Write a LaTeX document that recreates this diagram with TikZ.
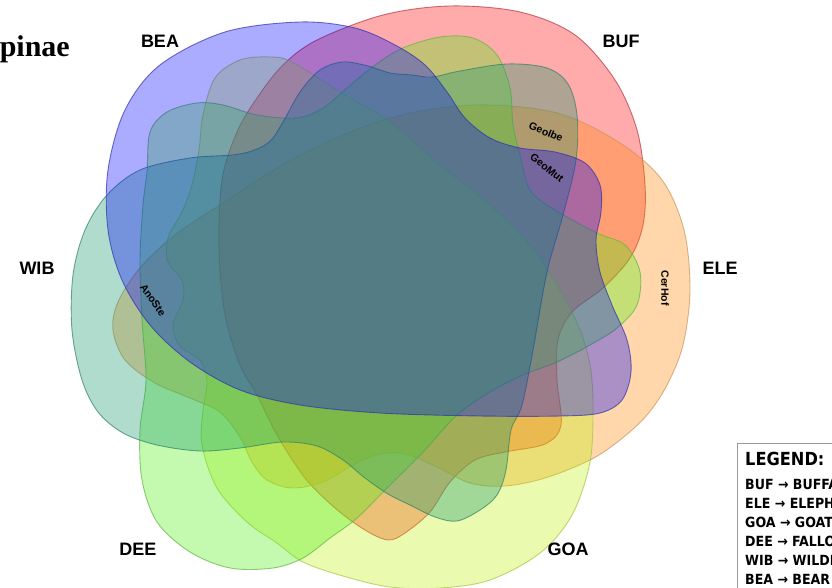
\documentclass[tikz,border=0pt]{standalone}
\usepackage{fontspec}
\setmainfont{Liberation Sans}
\newfontfamily\serifb{Liberation Serif}
\newfontfamily\legf{DejaVu Sans Condensed}
\definecolor{beaF}{RGB}{0,0,255}\definecolor{beaD}{RGB}{50,50,170}
\definecolor{bufF}{RGB}{255,0,0}\definecolor{bufD}{RGB}{185,50,60}
\definecolor{eleF}{RGB}{255,134,0}\definecolor{eleD}{RGB}{200,150,90}
\definecolor{goaF}{RGB}{194,240,13}\definecolor{goaD}{RGB}{170,195,70}
\definecolor{deeF}{RGB}{73,240,13}\definecolor{deeD}{RGB}{100,180,70}
\definecolor{wibF}{RGB}{13,149,103}\definecolor{wibD}{RGB}{50,130,100}
\tikzset{
 vset/.style={fill opacity=0.33, draw opacity=0.7, line width=0.9pt},
 setlabel/.style={font=\bfseries\fontsize{18}{18}\selectfont},
 smalllabel/.style={font=\bfseries\fontsize{10.5}{11}\selectfont, inner sep=0pt},
 legline/.style={font=\legf\bfseries\fontsize{14}{15}\selectfont, anchor=west, inner sep=0pt}
}
\begin{document}
\begin{tikzpicture}[x=1pt,y=-1pt]
\useasboundingbox (0,0) rectangle (832,588);
\fill[white] (0,0) rectangle (832,588);
% BUF
\draw[vset, fill=bufF, draw=bufD] plot[smooth cycle, tension=0.55] coordinates {
(383,15) (450,6) (520,12) (575,35) (615,80) (637,130) (645,185) (643,225) (630,258) (603,288) (572,312) (558,340) (557,380) (561,425) (545,444) (505,452) (475,460) (450,482) (430,512) (405,533) (388,540) (365,530) (335,508) (305,478) (277,435) (257,395) (240,365) (225,315) (219,250) (222,180) (237,132) (257,98) (283,65) (317,40)};
% ELE
\draw[vset, fill=eleF, draw=eleD] plot[smooth cycle, tension=0.55] coordinates {
(390,118) (475,105) (557,113) (620,143) (662,180) (684,230) (690,290) (683,345) (667,385) (647,415) (620,440) (590,460) (545,478) (505,486) (470,483) (435,466) (405,454) (380,454) (355,464) (323,482) (292,488) (267,480) (252,462) (240,437) (220,412) (190,398) (155,383) (125,360) (113,330) (118,302) (140,268) (175,235) (220,205) (300,155)};
% GOA
\draw[vset, fill=goaF, draw=goaD] plot[smooth cycle, tension=0.55] coordinates {
(203,115) (215,78) (240,60) (270,57) (292,62) (340,92) (390,122) (440,165) (490,205) (530,245) (560,290) (580,330) (590,365) (593,405) (590,462) (572,515) (540,553) (490,580) (440,588) (390,587) (343,576) (303,562) (277,543) (247,522) (217,488) (202,445) (203,410) (207,382) (200,360) (180,346) (173,325) (183,300) (182,280) (168,262) (168,238) (182,212) (192,185) (199,150)};
% DEE
\draw[vset, fill=deeF, draw=deeD] plot[smooth cycle, tension=0.55] coordinates {
(147,172) (150,132) (167,112) (197,103) (223,105) (257,115) (297,118) (323,108) (347,88) (375,65) (403,48) (440,37) (473,38) (497,55) (510,88) (513,125) (520,155) (530,190) (555,210) (597,233) (625,245) (640,272) (637,305) (617,328) (590,345) (557,362) (523,375) (490,392) (457,415) (423,452) (390,485) (357,518) (330,538) (303,558) (273,568) (230,568) (190,552) (157,522) (142,480) (140,430) (146,380) (142,320) (140,260) (143,205)};
% WIB
\draw[vset, fill=wibF, draw=wibD] plot[smooth cycle, tension=0.55] coordinates {
(107,195) (140,170) (190,158) (240,154) (268,143) (283,122) (300,92) (320,70) (343,62) (368,66) (390,73) (412,75) (432,77) (460,71) (507,64) (547,68) (568,84) (577,115) (576,160) (563,215) (547,272) (533,350) (522,405) (511,430) (506,470) (497,495) (480,510) (457,521) (435,517) (410,505) (388,494) (365,478) (343,460) (317,446) (283,442) (240,448) (200,451) (157,445) (123,433) (98,412) (82,380) (72,330) (73,275) (85,230)};
% BEA
\draw[vset, fill=beaF, draw=beaD] plot[smooth cycle, tension=0.55] coordinates {
(300,22) (355,28) (395,45) (425,65) (447,92) (465,118) (490,138) (520,148) (555,152) (585,163) (600,185) (601,212) (596,240) (600,272) (612,305) (627,340) (631,372) (622,400) (600,413) (560,416) (480,416) (380,413) (300,405) (240,390) (190,362) (150,325) (122,280) (108,230) (108,170) (125,110) (160,65) (225,32)};
% set labels
\node[setlabel] (lbea) at (160,41) {BEA};
\node[setlabel] (lbuf) at (621,41) {BUF};
\node[setlabel] (lwib) at (37,268) {WIB};
\node[setlabel] (lele) at (720,268) {ELE};
\node[setlabel] (ldee) at (138,549) {DEE};
\node[setlabel] (lgoa) at (568,549) {GOA};
% region labels
\node[smalllabel, rotate=-22] (geolbe) at (546,132) {GeoIbe};
\node[smalllabel, rotate=-38] (geomut) at (547,168) {GeoMut};
\node[smalllabel, rotate=-55] (anoste) at (153,300) {AnoSte};
\node[smalllabel, rotate=-90] (cerhof) at (665,288) {CerHof};
% title
\node[anchor=base east, inner sep=0pt, font=\serifb\bfseries\fontsize{30}{30}\selectfont] (title) at (70,57) {Antilopinae};
% legend
\draw[gray!80, line width=0.8pt] (737,443) rectangle (900,620);
\node[anchor=west, inner sep=0pt, font=\legf\bfseries\fontsize{18}{19}\selectfont] (legt) at (745,459) {LEGEND:};
\node[legline] (l1) at (745,484) {BUF → BUFFALO};
\node[legline] (l2) at (745,503) {ELE → ELEPHANT};
\node[legline] (l3) at (745,522) {GOA → GOAT};
\node[legline] (l4) at (745,541) {DEE → FALLOW DEER};
\node[legline] (l5) at (745,560) {WIB → WILDEBEEST};
\node[legline] (l6) at (745,579) {BEA → BEAR};
\end{tikzpicture}
\end{document}
